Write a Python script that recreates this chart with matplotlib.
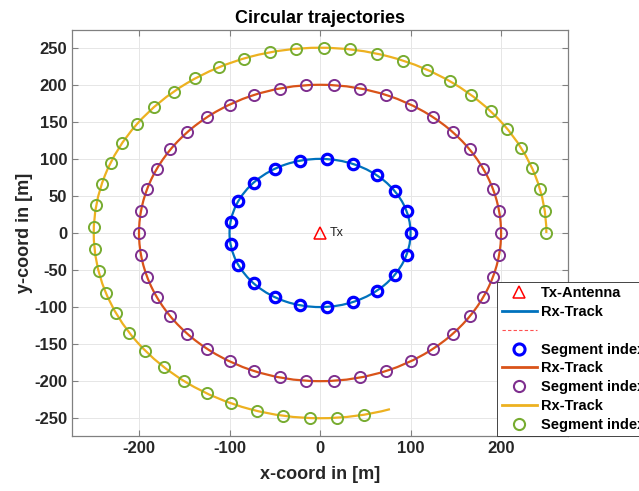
import numpy as np
import matplotlib.pyplot as plt
from matplotlib.patches import Arc
from matplotlib.lines import Line2D

plt.rcParams['font.family'] = ['Liberation Sans', 'DejaVu Sans']
plt.rcParams['axes.unicode_minus'] = False

# track radii [m] and how far each track runs [deg]
radii = [100, 200, 250]
track_end_deg = [360, 360, 288]

# segment index positions, as angles on each circle [deg]
seg_angles_100 = [0, 17.1, 34.3, 51.4, 68.6, 85.7, 102.9, 120.0, 137.1, 154.3,
                  171.4, 188.6, 205.7, 222.9, 240.0, 257.1, 274.3, 291.4,
                  308.6, 325.7, 342.9]
seg_angles_200 = [0, 8.6, 17.1, 25.7, 34.3, 42.9, 51.4, 60.0, 68.6, 77.1, 85.7,
                  94.3, 102.9, 111.4, 120.0, 128.6, 137.1, 145.7, 154.3, 162.9,
                  171.4, 180.0, 188.6, 197.1, 205.7, 214.3, 222.9, 231.4, 240.0,
                  248.6, 257.1, 265.7, 274.3, 282.9, 291.4, 300.0, 308.6, 317.1,
                  325.7, 334.3, 342.9, 351.4]
seg_angles_250 = [0, 6.9, 13.7, 20.6, 27.4, 34.3, 41.1, 48.0, 54.9, 61.7, 68.6,
                  75.4, 82.3, 89.1, 96.0, 102.9, 109.7, 116.6, 123.4, 130.3,
                  137.1, 144.0, 150.9, 157.7, 164.6, 171.4, 178.3, 185.1, 192.0,
                  198.9, 205.7, 212.6, 219.4, 226.3, 233.1, 240.0, 246.9, 253.7,
                  260.6, 267.4, 274.3, 281.1]
seg_angles = [seg_angles_100, seg_angles_200, seg_angles_250]

tx_pos = (0, 0)

track_colors = ['#0072BD', '#D95319', '#EDB120']
seg_colors = ['#0000FF', '#7E2F8E', '#77AC30']
seg_ms = [7.5, 8, 8]
seg_mew = [2.3, 1.4, 1.4]

fig = plt.figure(figsize=(6.39, 4.91), dpi=100)
ax = fig.add_axes([0.1127, 0.112, 0.7763, 0.827])

for r, end, ang, tc, sc, ms, mew in zip(radii, track_end_deg, seg_angles,
                                         track_colors, seg_colors, seg_ms, seg_mew):
    ax.add_patch(Arc((0, 0), 2 * r, 2 * r, theta1=0, theta2=end,
                     color=tc, lw=1.6, zorder=3))
    a = np.deg2rad(ang)
    ax.plot(r * np.cos(a), r * np.sin(a), 'o', ls='none', mfc='none',
            mec=sc, ms=ms, mew=mew, zorder=4)

ax.plot(*tx_pos, '^', mfc='none', mec='red', ms=9, mew=1.1, zorder=5)
ax.text(tx_pos[0] + 11, tx_pos[1], 'Tx', fontsize=9, va='center', ha='left',
        color='#202020')

ax.set_xlim(-274, 274)
ax.set_ylim(-274, 274)
ax.set_xticks([-200, -100, 0, 100, 200])
ax.set_yticks([-250, -200, -150, -100, -50, 0, 50, 100, 150, 200, 250])
ax.grid(True, color='#e6e6e6', lw=0.7)
ax.set_axisbelow(True)
ax.tick_params(direction='in', top=True, right=True, length=4, width=0.8,
               colors='#808080', labelcolor='#262626', labelsize=12)
for lab in ax.get_xticklabels() + ax.get_yticklabels():
    lab.set_fontweight('bold')
for s in ax.spines.values():
    s.set_color('#808080')
    s.set_linewidth(0.9)

ax.set_title('Circular trajectories', fontsize=13, fontweight='bold', pad=5)
ax.set_xlabel('x-coord in [m]', fontsize=13, fontweight='bold', color='#262626',
              labelpad=7)
ax.set_ylabel('y-coord in [m]', fontsize=13, fontweight='bold', color='#262626',
              labelpad=1)

handles = [
    Line2D([], [], ls='none', marker='^', mfc='none', mec='red', ms=9, mew=1.1),
    Line2D([], [], color=track_colors[0], lw=2),
    Line2D([], [], color='#ff5050', lw=0.8, ls=(0, (3, 2))),
    Line2D([], [], ls='none', marker='o', mfc='none', mec=seg_colors[0], ms=8, mew=2.2),
    Line2D([], [], color=track_colors[1], lw=2),
    Line2D([], [], ls='none', marker='o', mfc='none', mec=seg_colors[1], ms=8, mew=1.5),
    Line2D([], [], color=track_colors[2], lw=2),
    Line2D([], [], ls='none', marker='o', mfc='none', mec=seg_colors[2], ms=8, mew=1.5),
]
labels = ['Tx-Antenna', 'Rx-Track', ' ', 'Segment index', 'Rx-Track',
          'Segment index', 'Rx-Track', 'Segment index']
leg = fig.legend(handles, labels, loc='upper left',
                 bbox_to_anchor=(0.778, 0.426), bbox_transform=fig.transFigure,
                 borderaxespad=0, fancybox=False, framealpha=1,
                 edgecolor='#262626', handlelength=2.4, handletextpad=0.3,
                 labelspacing=0.33, borderpad=0.3,
                 prop={'weight': 'bold', 'size': 10.5})
leg.get_frame().set_linewidth(0.6)

fig.savefig('out.png', dpi=100)
